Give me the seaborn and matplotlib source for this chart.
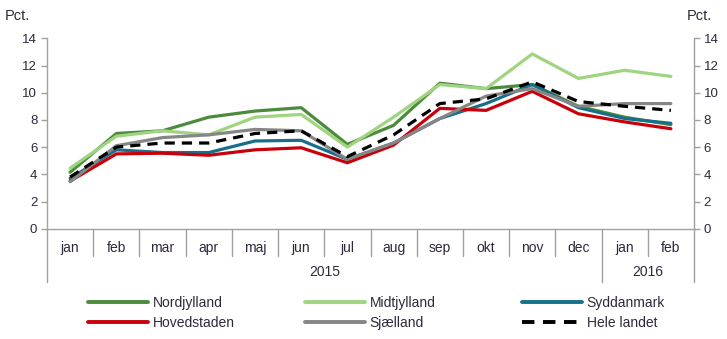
import matplotlib
matplotlib.use("Agg")
import matplotlib.pyplot as plt
import matplotlib.transforms as mtransforms
from matplotlib.lines import Line2D
import seaborn as sns
import pandas as pd

months = ["jan", "feb", "mar", "apr", "maj", "jun", "jul", "aug",
          "sep", "okt", "nov", "dec", "jan", "feb"]
years = ["2015"] * 12 + ["2016"] * 2

nordjylland = [4.15, 7.0, 7.2, 8.2, 8.65, 8.9, 6.2, 7.6, 10.7, 10.3, 10.6, 9.0, 8.2, 7.65]
midtjylland = [4.45, 6.8, 7.2, 6.9, 8.2, 8.4, 6.0, 8.2, 10.6, 10.3, 12.85, 11.05, 11.65, 11.2]
syddanmark = [3.7, 5.8, 5.6, 5.6, 6.45, 6.5, 5.1, 6.3, 8.1, 9.2, 10.6, 8.9, 8.1, 7.75]
hovedstaden = [3.5, 5.5, 5.55, 5.4, 5.8, 5.95, 4.85, 6.15, 8.85, 8.7, 10.1, 8.45, 7.85, 7.35]
sjaelland = [3.45, 6.1, 6.7, 6.9, 7.3, 7.2, 5.1, 6.3, 8.1, 9.75, 10.3, 9.0, 9.2, 9.2]
hele_landet = [3.8, 6.0, 6.3, 6.3, 7.0, 7.2, 5.3, 6.9, 9.2, 9.55, 10.8, 9.35, 9.0, 8.7]

series = {
    "Nordjylland": nordjylland,
    "Midtjylland": midtjylland,
    "Syddanmark": syddanmark,
    "Hovedstaden": hovedstaden,
    "Sjælland": sjaelland,
    "Hele landet": hele_landet,
}
colors = {
    "Nordjylland": "#4b8b3b",
    "Midtjylland": "#9fd480",
    "Syddanmark": "#17708a",
    "Hovedstaden": "#c8000a",
    "Sjælland": "#868686",
    "Hele landet": "#000000",
}
dash_pattern = (3.2, 2.2)
dash_styles = {k: "" for k in series}
dash_styles["Hele landet"] = dash_pattern

rows = []
for name, vals in series.items():
    for i, v in enumerate(vals):
        rows.append({"pos": i, "value": v, "region": name})
df = pd.DataFrame(rows)

sns.set_theme(style="white")
plt.rcParams["font.family"] = ["Liberation Sans", "DejaVu Sans"]
txt = "#30283a"
axis_col = "#a0a0a0"

fig = plt.figure(figsize=(7.27, 3.39), dpi=100)
W, H = 727, 339
x0, x1 = 47, 694
ytop, ybot = 38.3, 228.7
ax = fig.add_axes([x0 / W, 1 - ybot / H, (x1 - x0) / W, (ybot - ytop) / H])

sns.lineplot(data=df, x="pos", y="value", hue="region", style="region",
             palette=colors, dashes=dash_styles, linewidth=2.3,
             hue_order=list(series), style_order=list(series),
             legend=False, ax=ax, sort=False)

ax.set_xlim(-0.5, len(months) - 0.5)
ax.set_ylim(0, 14)
ax.set_yticks(range(0, 15, 2))
ax.set_xlabel("")
ax.set_ylabel("")
for s in ["top", "right"]:
    ax.spines[s].set_visible(False)
ax.spines["left"].set_color(axis_col)
ax.spines["bottom"].set_color(axis_col)
ax.spines["left"].set_linewidth(1)
ax.spines["bottom"].set_linewidth(1)
ax.tick_params(axis="y", direction="out", length=4, color=axis_col, width=1,
               labelsize=9.5, labelcolor=txt, pad=3, left=True)
ax.set_xticks(range(len(months)))
ax.set_xticklabels(months)
ax.tick_params(axis="x", length=0, labelsize=10, labelcolor=txt, pad=9)

ax2 = ax.twinx()
ax2.set_ylim(0, 14)
ax2.set_yticks(range(0, 15, 2))
for s in ["top", "left", "bottom"]:
    ax2.spines[s].set_visible(False)
ax2.spines["right"].set_color(axis_col)
ax2.spines["right"].set_linewidth(1)
ax2.tick_params(axis="y", direction="out", length=4, color=axis_col, width=1,
                labelsize=9.5, labelcolor=txt, pad=3, right=True)
ax2.grid(False)
ax.grid(False)

# category separators below the axis
trans = mtransforms.blended_transform_factory(ax.transData, fig.transFigure)
month_bottom = 1 - 256 / H
year_bottom = 1 - 282 / H
axis_y = 1 - ybot / H
for i in range(len(months) + 1):
    b = i - 0.5
    long_line = i in (0, 12, len(months))
    ax.add_line(Line2D([b, b], [axis_y, year_bottom if long_line else month_bottom],
                       transform=trans, color=axis_col, lw=1, clip_on=False))

year_y = 1 - 272 / H
ax.text(5.5, year_y, "2015", transform=trans, ha="center", va="center",
        fontsize=10, color=txt)
ax.text(12.5, year_y, "2016", transform=trans, ha="center", va="center",
        fontsize=10, color=txt)

fig.text(5 / W, 1 - 16 / H, "Pct.", fontsize=10.5, color=txt, va="center", ha="left")
fig.text(712 / W, 1 - 16 / H, "Pct.", fontsize=10.5, color=txt, va="center", ha="right")

# legend: three columns of two entries each
names = list(series)
columns = [(88, [0, 3]), (305, [1, 4]), (522, [2, 5])]
for xpos, idx in columns:
    handles = [Line2D([0], [0], color=colors[names[i]], lw=2.8,
                      linestyle=(0, dash_pattern) if names[i] == "Hele landet" else "-")
               for i in idx]
    leg = fig.legend(handles, [names[i] for i in idx], loc="upper left",
                     bbox_to_anchor=(xpos / W, 1 - 296 / H), frameon=False,
                     fontsize=10, handlelength=4.3, handletextpad=0.36,
                     labelspacing=0.45, borderpad=0, borderaxespad=0)
    for t in leg.get_texts():
        t.set_color(txt)

fig.savefig("out.png", dpi=100)
